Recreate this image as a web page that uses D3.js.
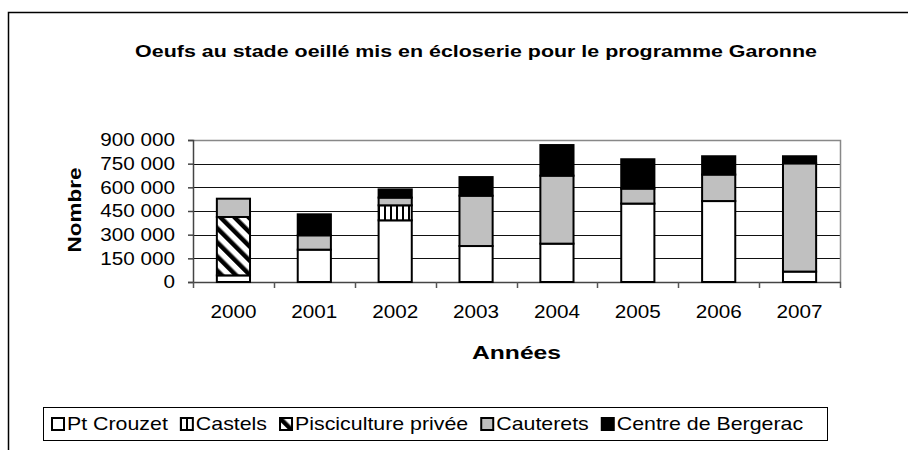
<!DOCTYPE html>
<html>
<head>
<meta charset="utf-8">
<script src="https://cdn.jsdelivr.net/npm/d3@7"></script>
<style>
  body { margin: 0; background: #fff; }
  svg { display: block; font-family: Arial, "Liberation Sans", sans-serif; }
</style>
</head>
<body>
<svg id="chart" width="908" height="450"></svg>
<script>
// data
const years = ['2000', '2001', '2002', '2003', '2004', '2005', '2006', '2007'];
const ptCrouzet    = [42000, 205000, 391000, 228000, 243000, 497000, 513000, 66000];
const castels      = [0, 0, 95000, 0, 0, 0, 0, 0];
const pisciculture = [370000, 0, 0, 0, 0, 0, 0, 0];
const cauterets    = [116000, 91000, 49000, 319000, 431000, 95000, 168000, 686000];
const bergerac     = [0, 133000, 52000, 118000, 194000, 186000, 116000, 45000];
const seriesNames  = ['Pt Crouzet', 'Castels', 'Pisciculture privée', 'Cauterets', 'Centre de Bergerac'];
const yTicks = [0, 150000, 300000, 450000, 600000, 750000, 900000];

drawChart();

function drawChart(){
    const svg = d3.select('#chart');
    const plot = {left: 193, right: 840, top: 140, bottom: 282};

    // build rows for d3.stack
    const allSeries = [ptCrouzet, castels, pisciculture, cauterets, bergerac];
    const rows = years.map(function(y, i){
        const r = {year: y};
        seriesNames.forEach(function(n, k){ r[n] = allSeries[k][i]; });
        return r;
    });
    const stacked = d3.stack().keys(seriesNames)(rows);

    // fills, patterns for the hatched ones
    const defs = svg.append('defs');
    const diag = defs.append('pattern')
        .attr('id', 'diag')
        .attr('patternUnits', 'userSpaceOnUse')
        .attr('width', 10).attr('height', 10)
        .attr('patternTransform', 'rotate(-45)');
    diag.append('rect').attr('width', 10).attr('height', 10).attr('fill', '#fff');
    diag.append('rect').attr('width', 4.5).attr('height', 10).attr('fill', '#000');

    const vert = defs.append('pattern')
        .attr('id', 'vert')
        .attr('patternUnits', 'userSpaceOnUse')
        .attr('width', 6).attr('height', 6);
    vert.append('rect').attr('width', 6).attr('height', 6).attr('fill', '#fff');
    vert.append('rect').attr('width', 2).attr('height', 6).attr('fill', '#000');

    const fills = {
        'Pt Crouzet': '#ffffff',
        'Castels': 'url(#vert)',
        'Pisciculture privée': 'url(#diag)',
        'Cauterets': '#c0c0c0',
        'Centre de Bergerac': '#000000'
    };

    // thousands separated by a space
    const fmt = d3.formatLocale({decimal: ',', thousands: ' ', grouping: [3], currency: ['', '€']}).format(',');

    // outer frame (cut on the right and bottom)
    svg.append('path')
        .attr('d', 'M8.5,450 V12.5 H908')
        .attr('fill', 'none')
        .attr('stroke', '#000')
        .attr('stroke-width', 1.5);

    const x = d3.scaleBand()
        .domain(years)
        .range([plot.left, plot.right])
        .paddingInner(0.59)
        .paddingOuter(0.295);
    const y = d3.scaleLinear()
        .domain([0, 900000])
        .range([plot.bottom, plot.top]);

    // gridlines
    svg.append('g')
        .selectAll('line')
        .data(yTicks.slice(1, -1))
        .enter().append('line')
        .attr('x1', plot.left).attr('x2', plot.right)
        .attr('y1', function(d){ return Math.round(y(d)) + 0.5; })
        .attr('y2', function(d){ return Math.round(y(d)) + 0.5; })
        .attr('stroke', '#111')
        .attr('stroke-width', 1);

    // plot border top/right
    svg.append('path')
        .attr('d', 'M' + plot.left + ',' + (plot.top + 0.5) + ' H' + (plot.right + 0.5) + ' V' + plot.bottom)
        .attr('fill', 'none')
        .attr('stroke', '#888')
        .attr('stroke-width', 1.5);

    // y axis
    const yAxis = svg.append('g')
        .attr('transform', 'translate(' + plot.left + ',0)')
        .call(d3.axisLeft(y).tickValues(yTicks).tickSize(5).tickFormat(''));
    yAxis.select('.domain').attr('stroke', '#444').attr('stroke-width', 1.5);
    yAxis.selectAll('.tick line').attr('stroke', '#444').attr('stroke-width', 1.5);

    svg.append('g')
        .selectAll('text')
        .data(yTicks)
        .enter().append('text')
        .attr('transform', function(d){ return 'translate(175,' + y(d) + ') scale(1.15,1)'; })
        .attr('text-anchor', 'end')
        .attr('dy', '0.36em')
        .attr('font-size', 18)
        .attr('fill', '#000')
        .text(function(d){ return fmt(d); });

    // x axis with ticks between categories
    const step = x.step();
    const bounds = d3.range(years.length + 1).map(function(i){ return plot.left + i * step; });
    svg.append('line')
        .attr('x1', plot.left).attr('x2', plot.right + 1)
        .attr('y1', plot.bottom + 0.5).attr('y2', plot.bottom + 0.5)
        .attr('stroke', '#444').attr('stroke-width', 1.5);
    svg.append('g')
        .selectAll('line')
        .data(bounds)
        .enter().append('line')
        .attr('x1', function(d){ return Math.round(d) + 0.5; })
        .attr('x2', function(d){ return Math.round(d) + 0.5; })
        .attr('y1', plot.bottom).attr('y2', plot.bottom + 6)
        .attr('stroke', '#555').attr('stroke-width', 1.5);

    svg.append('g')
        .selectAll('text')
        .data(years)
        .enter().append('text')
        .attr('transform', function(d){ return 'translate(' + (x(d) + x.bandwidth() / 2) + ',312) scale(1.15,1)'; })
        .attr('text-anchor', 'middle')
        .attr('dy', '0.36em')
        .attr('font-size', 18)
        .text(function(d){ return d; });

    // stacked bars
    const layers = svg.append('g').selectAll('g')
        .data(stacked)
        .enter().append('g')
        .attr('fill', function(d){ return fills[d.key]; });
    layers.selectAll('rect')
        .data(function(d){ return d.filter(function(p){ return p[1] - p[0] > 0; }); })
        .enter().append('rect')
        .attr('x', function(d){ return x(d.data.year); })
        .attr('width', x.bandwidth())
        .attr('y', function(d){ return y(d[1]); })
        .attr('height', function(d){ return y(d[0]) - y(d[1]); })
        .attr('stroke', '#000')
        .attr('stroke-width', 2);

    // title and axis titles
    svg.append('text')
        .attr('transform', 'translate(476,57) scale(1.26,1)')
        .attr('text-anchor', 'middle')
        .attr('font-size', 17)
        .attr('font-weight', 'bold')
        .text('Oeufs au stade oeillé mis en écloserie pour le programme Garonne');

    svg.append('text')
        .attr('transform', 'translate(81,210) rotate(-90) scale(1.25,1)')
        .attr('text-anchor', 'middle')
        .attr('font-size', 18)
        .attr('font-weight', 'bold')
        .text('Nombre');

    svg.append('text')
        .attr('transform', 'translate(' + ((plot.left + plot.right) / 2) + ',359) scale(1.3,1)')
        .attr('text-anchor', 'middle')
        .attr('font-size', 19)
        .attr('font-weight', 'bold')
        .text('Années');

    // legend
    const legend = svg.append('g');
    legend.append('rect')
        .attr('x', 43.5).attr('y', 407.5)
        .attr('width', 784).attr('height', 33)
        .attr('fill', '#fff')
        .attr('stroke', '#000');
    let lx = 52;
    seriesNames.forEach(function(name){
        legend.append('rect')
            .attr('x', lx).attr('y', 418)
            .attr('width', 12).attr('height', 12)
            .attr('fill', fills[name])
            .attr('stroke', '#000')
            .attr('stroke-width', 2);
        const t = legend.append('text')
            .attr('transform', 'translate(' + (lx + 15) + ',424) scale(1.22,1)')
            .attr('dy', '0.36em')
            .attr('font-size', 17.5)
            .text(name);
        lx += 15 + t.node().getComputedTextLength() * 1.22 + 13;
    });
}
</script>
</body>
</html>
